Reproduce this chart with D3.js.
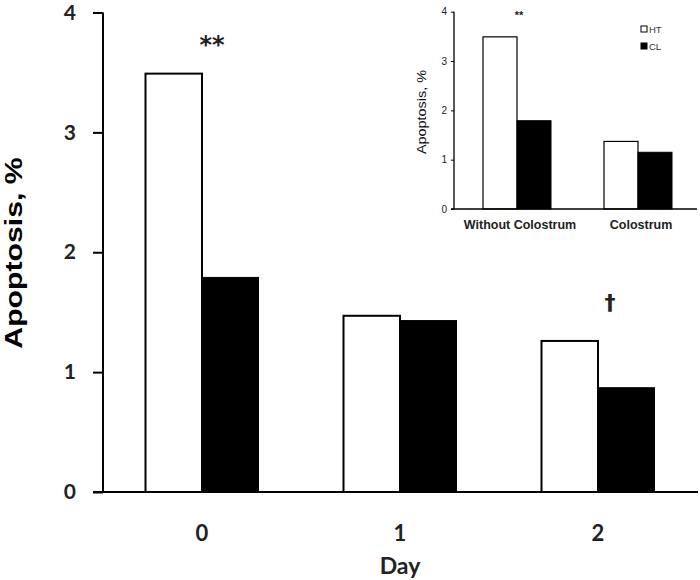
<!DOCTYPE html>
<html><head><meta charset="utf-8">
<script src="https://cdn.jsdelivr.net/npm/d3@7"></script>
<style>body{margin:0;background:#fff}svg{display:block}</style>
</head><body>
<script>
// Main chart data
const days = ["0", "1", "2"];
const htMain = [3.49, 1.47, 1.26];
const clMain = [1.79, 1.43, 0.87];
const mainMarks = ["**", "", "†"];
const mainTicks = [0, 1, 2, 3, 4];
// Inset data
const groups = ["Without Colostrum", "Colostrum"];
const htInset = [3.49, 1.37];
const clInset = [1.79, 1.15];
const insetMarks = ["**", ""];
const insetTicks = [0, 1, 2, 3, 4];
const series = ["HT", "CL"];

const W = 700, H = 580;
const svg = d3.select("body").append("svg").attr("width", W).attr("height", H);

// ---------- Main chart ----------
const mainFont = "Lato, 'Open Sans', sans-serif";
const y = d3.scaleLinear().domain([0, 4]).range([492, 12.5]);
const x = d3.scaleBand().domain(days).range([103, 697]);
const bw = 56.5;

const mainData = days.map((d, i) => ({d, ht: htMain[i], cl: clMain[i], mark: mainMarks[i]}));

const gm = svg.append("g");
gm.selectAll("rect.ht").data(mainData).join("rect")
  .attr("x", d => x(d.d) + x.bandwidth()/2 - bw)
  .attr("y", d => y(d.ht)).attr("width", bw).attr("height", d => y(0) - y(d.ht))
  .attr("fill", "#fff").attr("stroke", "#000").attr("stroke-width", 2);
gm.selectAll("rect.cl").data(mainData).join("rect")
  .attr("x", d => x(d.d) + x.bandwidth()/2)
  .attr("y", d => y(d.cl)).attr("width", bw).attr("height", d => y(0) - y(d.cl))
  .attr("fill", "#000").attr("stroke", "#000").attr("stroke-width", 1);

// y axis
const yAx = gm.append("g").attr("transform", "translate(103,0)")
  .call(d3.axisLeft(y).tickValues(mainTicks).tickFormat(d3.format("d")).tickSize(10).tickPadding(17));
yAx.select(".domain").attr("stroke-width", 2).attr("d", `M0,${y(4)}V${y(0)}`);
yAx.selectAll(".tick line").attr("stroke-width", 2);
yAx.selectAll(".tick text").attr("font-family", mainFont).attr("font-weight", "bold")
  .attr("font-size", 21).attr("fill", "#222");

// x axis
gm.append("line").attr("x1", 93).attr("x2", 698).attr("y1", y(0)).attr("y2", y(0))
  .attr("stroke", "#000").attr("stroke-width", 2);
gm.selectAll("text.xl").data(mainData).join("text")
  .attr("x", d => x(d.d) + x.bandwidth()/2).attr("y", 541)
  .attr("text-anchor", "middle").attr("font-family", mainFont).attr("font-weight", "bold")
  .attr("font-size", 22).attr("fill", "#222").text(d => d.d);
gm.append("text").attr("x", x("1") + x.bandwidth()/2).attr("y", 574)
  .attr("text-anchor", "middle").attr("font-family", mainFont).attr("font-weight", "bold")
  .attr("font-size", 23).attr("fill", "#222").text("Day");

// significance marks
gm.selectAll("text.mk").data(mainData.filter(d => d.mark)).join("text")
  .attr("x", d => x(d.d) + x.bandwidth()/2 + (d.mark === "†" ? 12 : 10))
  .attr("y", d => d.mark === "†" ? 310 : 53)
  .attr("text-anchor", "middle").attr("font-family", "'DejaVu Sans', sans-serif").attr("font-weight", "bold")
  .attr("font-size", d => d.mark === "†" ? 22 : 24).attr("fill", "#222").text(d => d.mark);

// y title (stretched along its length like the reference)
gm.append("text").attr("transform", "translate(22,253) rotate(-90) scale(1.26,1)")
  .attr("text-anchor", "middle").attr("font-family", "'Liberation Sans', Arial, sans-serif")
  .attr("font-weight", "bold").attr("font-size", 24).attr("fill", "#000").text("Apoptosis, %");

// ---------- Inset ----------
const insetFont = "'Liberation Sans', Arial, sans-serif";
const yi = d3.scaleLinear().domain([0, 4]).range([209, 11.7]);
const bwi = 34;
const insetData = groups.map((g, i) => ({g, ht: htInset[i], cl: clInset[i], mark: insetMarks[i]}));
const xi = d3.scalePoint().domain(groups).range([517, 638]);

const gi = svg.append("g");
gi.selectAll("rect.ht").data(insetData).join("rect")
  .attr("x", d => xi(d.g) - bwi).attr("y", d => yi(d.ht)).attr("width", bwi)
  .attr("height", d => yi(0) - yi(d.ht))
  .attr("fill", "#fff").attr("stroke", "#000").attr("stroke-width", 1.2);
gi.selectAll("rect.cl").data(insetData).join("rect")
  .attr("x", d => xi(d.g)).attr("y", d => yi(d.cl)).attr("width", bwi)
  .attr("height", d => yi(0) - yi(d.cl))
  .attr("fill", "#000").attr("stroke", "#000").attr("stroke-width", 1);

const yiAx = gi.append("g").attr("transform", "translate(454,0)")
  .call(d3.axisLeft(yi).tickValues(insetTicks).tickFormat(d3.format("d")).tickSize(3).tickPadding(4));
yiAx.select(".domain").attr("stroke-width", 1.3).attr("d", `M0,${yi(4)}V${yi(0)}`);
yiAx.selectAll(".tick text").attr("font-family", insetFont).attr("font-size", 10).attr("fill", "#222");

gi.append("line").attr("x1", 451).attr("x2", 697).attr("y1", yi(0)).attr("y2", yi(0))
  .attr("stroke", "#000").attr("stroke-width", 1.3);
gi.selectAll("text.xl").data(insetData).join("text")
  .attr("x", d => xi(d.g) + 3).attr("y", 229)
  .attr("text-anchor", "middle").attr("font-family", insetFont).attr("font-weight", "bold")
  .attr("font-size", 12.5).attr("fill", "#222").text(d => d.g);
gi.selectAll("text.mk").data(insetData.filter(d => d.mark)).join("text")
  .attr("x", d => xi(d.g) + 2).attr("y", 19)
  .attr("text-anchor", "middle").attr("font-family", insetFont).attr("font-weight", "bold")
  .attr("font-size", 11).attr("fill", "#222").text(d => d.mark);
gi.append("text").attr("transform", "translate(426,112) rotate(-90) scale(1.2,1)")
  .attr("text-anchor", "middle").attr("font-family", insetFont)
  .attr("font-size", 12).attr("fill", "#111").text("Apoptosis, %");

// legend
const lg = gi.selectAll("g.lg").data(series).join("g")
  .attr("transform", (d, i) => `translate(641,${26 + i * 17})`);
lg.append("rect").attr("width", 6).attr("height", 6)
  .attr("fill", (d, i) => i === 0 ? "#fff" : "#000").attr("stroke", "#000").attr("stroke-width", 1);
lg.append("text").attr("x", 8).attr("y", 6.5).attr("font-family", insetFont)
  .attr("font-size", 9.5).attr("fill", "#333").text(d => d);
</script>
</body></html>
